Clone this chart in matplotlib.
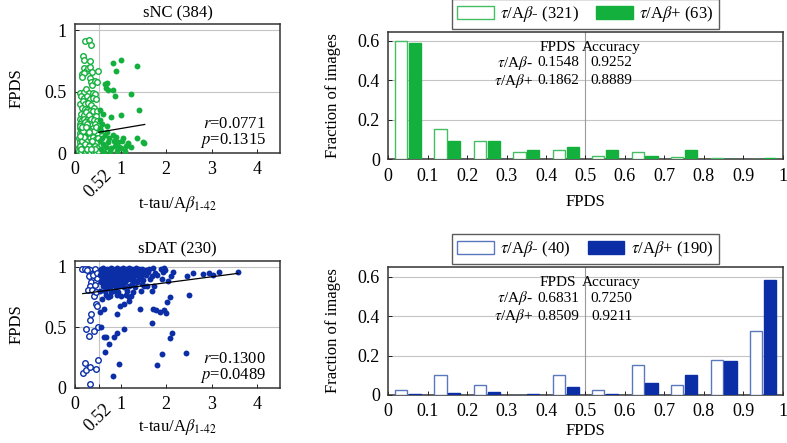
import matplotlib
matplotlib.use('Agg')
import matplotlib.pyplot as plt
import matplotlib.transforms as mtrans
from matplotlib.patches import Patch
import numpy as np

plt.rcParams['font.family'] = ['Liberation Serif', 'DejaVu Serif']
plt.rcParams['mathtext.fontset'] = 'stix'
plt.rcParams['font.size'] = 12

GREEN = '#14b03e'
GREEN_LIGHT = '#45bd62'
BLUE = '#0b2ea6'
BLUE_LIGHT = '#5a78bd'

# ---------------- scatter data (t-tau/Abeta ratio, FPDS) ----------------
nc_neg_points = [
    (0.22, 0.91), (0.30, 0.92), (0.35, 0.88), (0.17, 0.79), (0.19, 0.76), (0.33, 0.75),
    (0.19, 0.69), (0.25, 0.67), (0.28, 0.69), (0.33, 0.70), (0.37, 0.66), (0.51, 0.67),
    (0.15, 0.64), (0.19, 0.65), (0.16, 0.62), (0.32, 0.61), (0.35, 0.58), (0.37, 0.55),
    (0.44, 0.59), (0.48, 0.58), (0.12, 0.49), (0.19, 0.50), (0.25, 0.52), (0.30, 0.49),
    (0.39, 0.49), (0.44, 0.48), (0.14, 0.46), (0.20, 0.45), (0.26, 0.46), (0.33, 0.44),
    (0.40, 0.45), (0.46, 0.44), (0.12, 0.40), (0.17, 0.42), (0.23, 0.40), (0.29, 0.41),
    (0.36, 0.39), (0.42, 0.37), (0.15, 0.37), (0.21, 0.36), (0.27, 0.35), (0.33, 0.34),
    (0.39, 0.34), (0.48, 0.34), (0.13, 0.32), (0.19, 0.31), (0.24, 0.33), (0.30, 0.31),
    (0.45, 0.30),
    (0.10, 0.28), (0.15, 0.27), (0.20, 0.28), (0.26, 0.27), (0.31, 0.26), (0.36, 0.28),
    (0.42, 0.27), (0.48, 0.26), (0.12, 0.24), (0.17, 0.23), (0.22, 0.25), (0.28, 0.22),
    (0.33, 0.24), (0.38, 0.23), (0.44, 0.24), (0.50, 0.22), (0.10, 0.20), (0.14, 0.19),
    (0.19, 0.21), (0.24, 0.19), (0.29, 0.20), (0.35, 0.19), (0.40, 0.20), (0.46, 0.18),
    (0.11, 0.16), (0.16, 0.17), (0.21, 0.15), (0.26, 0.16), (0.31, 0.15), (0.37, 0.16),
    (0.43, 0.15), (0.49, 0.16), (0.09, 0.12), (0.13, 0.13), (0.18, 0.12), (0.23, 0.13),
    (0.28, 0.11), (0.33, 0.12), (0.39, 0.13), (0.45, 0.11), (0.51, 0.12), (0.10, 0.09),
    (0.15, 0.08), (0.20, 0.09), (0.25, 0.08), (0.30, 0.09), (0.35, 0.07), (0.41, 0.09),
    (0.47, 0.08), (0.08, 0.05), (0.12, 0.06), (0.17, 0.04), (0.22, 0.05), (0.27, 0.06),
    (0.32, 0.04), (0.37, 0.05), (0.43, 0.06), (0.49, 0.04), (0.09, 0.02), (0.14, 0.01),
    (0.19, 0.02), (0.24, 0.01), (0.29, 0.02), (0.34, 0.01), (0.40, 0.02), (0.46, 0.01),
    (0.51, 0.02), (0.12, 0.22), (0.27, 0.24), (0.18, 0.18), (0.33, 0.18), (0.24, 0.10),
    (0.38, 0.10), (0.16, 0.10), (0.21, 0.07), (0.31, 0.06), (0.44, 0.03), (0.13, 0.03),
    (0.26, 0.03), (0.36, 0.03), (0.20, 0.13), (0.42, 0.18), (0.15, 0.21), (0.47, 0.21),
    (0.30, 0.17), (0.11, 0.14), (0.25, 0.21),
]
nc_pos_points = [
    (0.83, 0.73), (1.01, 0.76), (0.91, 0.67), (1.37, 0.71), (0.68, 0.53), (0.71, 0.57),
    (0.73, 0.51), (0.84, 0.51), (0.88, 0.46), (1.24, 0.48), (1.41, 0.35), (1.00, 0.31),
    (0.78, 0.29), (0.62, 0.32), (0.55, 0.35), (0.66, 0.56), (0.55, 0.27), (0.60, 0.24),
    (0.70, 0.22), (0.58, 0.18), (0.65, 0.15), (0.75, 0.12), (0.85, 0.10), (0.95, 0.09),
    (1.06, 0.12), (1.17, 0.08), (1.22, 0.05), (1.35, 0.12), (1.49, 0.09), (1.51, 0.08),
    (0.55, 0.10), (0.62, 0.07), (0.68, 0.05), (0.72, 0.09), (0.80, 0.04), (0.88, 0.06),
    (0.92, 0.02), (1.00, 0.04), (1.10, 0.02), (0.57, 0.03), (0.64, 0.01), (0.77, 0.02),
    (0.60, 0.12), (0.83, 0.15), (0.54, 0.20), (0.70, 0.17), (1.03, 0.10), (1.13, 0.06),
    (0.90, 0.13), (0.97, 0.05),
]
dat_neg_points = [
    (0.15, 0.98), (0.28, 0.98), (0.34, 0.97), (0.41, 0.96), (0.37, 0.94), (0.30, 0.92),
    (0.35, 0.87), (0.32, 0.84), (0.28, 0.81), (0.37, 0.81), (0.45, 0.88), (0.48, 0.91),
    (0.41, 0.76), (0.47, 0.79), (0.45, 0.69), (0.48, 0.68), (0.35, 0.61), (0.32, 0.56),
    (0.25, 0.49), (0.30, 0.43), (0.41, 0.47), (0.50, 0.50), (0.23, 0.21), (0.17, 0.12),
    (0.25, 0.15), (0.34, 0.17), (0.47, 0.16), (0.50, 0.23), (0.32, 0.035), (0.21, 0.98),
    (0.44, 0.98), (0.39, 0.93), (0.43, 0.85), (0.26, 0.97), (0.49, 0.95),
]
dat_pos_points = [
    # dense upper cluster
    (0.56, 0.98), (0.62, 0.99), (0.70, 0.98), (0.78, 0.99), (0.84, 0.98), (0.92, 0.99),
    (0.98, 0.98), (1.05, 0.99), (1.12, 0.98), (1.18, 0.99), (1.25, 0.98), (1.33, 0.99),
    (1.40, 0.98), (1.48, 0.98), (1.56, 0.97), (1.62, 0.98), (1.72, 0.99), (1.88, 0.98),
    (1.95, 0.99), (0.58, 0.96), (0.66, 0.95), (0.74, 0.96), (0.82, 0.96), (0.88, 0.95),
    (0.95, 0.96), (1.02, 0.95), (1.09, 0.96), (1.15, 0.96), (1.22, 0.95), (1.30, 0.96),
    (1.38, 0.95), (1.45, 0.96), (1.52, 0.95), (1.60, 0.96), (1.75, 0.95), (1.93, 0.96),
    (0.55, 0.93), (0.63, 0.92), (0.71, 0.93), (0.80, 0.93), (0.87, 0.92), (0.93, 0.93),
    (1.00, 0.92), (1.08, 0.93), (1.14, 0.92), (1.21, 0.93), (1.28, 0.92), (1.36, 0.93),
    (1.44, 0.92), (1.55, 0.93), (1.68, 0.92), (1.80, 0.93), (0.60, 0.90), (0.68, 0.89),
    (0.76, 0.90), (0.85, 0.89), (0.91, 0.90), (0.98, 0.89), (1.06, 0.90), (1.13, 0.89),
    (1.20, 0.90), (1.30, 0.89), (1.40, 0.90), (1.50, 0.89), (1.65, 0.90), (0.58, 0.87),
    (0.66, 0.86), (0.75, 0.87), (0.83, 0.86), (0.92, 0.87), (1.03, 0.86), (1.10, 0.87),
    (1.25, 0.86), (1.35, 0.87), (1.46, 0.86), (0.62, 0.84), (0.72, 0.83), (0.80, 0.84),
    (0.90, 0.83), (0.97, 0.84), (1.08, 0.83), (1.18, 0.84), (1.32, 0.83), (1.52, 0.84),
    (0.65, 0.80), (0.78, 0.79), (0.88, 0.80), (0.95, 0.79), (1.15, 0.80), (1.28, 0.79),
    (1.45, 0.80), (0.68, 0.77), (0.76, 0.76), (0.93, 0.77), (1.01, 0.76), (1.12, 0.77),
    (1.22, 0.76),
    # scattered
    (0.55, 0.80), (0.69, 0.82), (0.59, 0.73), (0.72, 0.75), (0.55, 0.63), (0.63, 0.65),
    (0.57, 0.50), (0.63, 0.42), (0.69, 0.42), (0.74, 0.36), (0.85, 0.42), (0.92, 0.45),
    (0.66, 0.30), (0.83, 0.10), (0.97, 0.20), (1.07, 0.49), (0.92, 0.61), (0.99, 0.68),
    (1.07, 0.69), (1.18, 0.72), (1.18, 0.75), (1.42, 0.65), (1.69, 0.54), (1.71, 0.65),
    (1.78, 0.64), (1.87, 0.63), (1.96, 0.64), (2.00, 0.62), (2.01, 0.71), (2.09, 0.75),
    (2.51, 0.77), (2.09, 0.41), (2.12, 0.45), (1.91, 0.28), (1.81, 0.19), (2.43, 0.29),
    (1.69, 0.80), (1.74, 0.84), (1.58, 0.84), (1.91, 0.90), (2.05, 0.88), (2.16, 0.96),
    (2.45, 0.92), (2.82, 0.94), (2.95, 0.95), (3.04, 0.93), (3.15, 0.96), (3.58, 0.96),
    (2.60, 0.95), (1.97, 0.97), (2.10, 0.92),
]

# linear fits (slope, intercept) and the x range they cover
nc_fit = (0.063, 0.136)
nc_fit_range = (0.52, 1.53)
dat_fit = (0.049, 0.770)
dat_fit_range = (0.17, 3.58)
nc_stats = ('0.0771', '0.1315')
dat_stats = ('0.1300', '0.0489')

# ---------------- histogram data ----------------
bin_centers = [0.05, 0.15, 0.25, 0.35, 0.45, 0.55, 0.65, 0.75, 0.85, 0.95]
nc_neg_frac = [0.598, 0.153, 0.093, 0.037, 0.047, 0.017, 0.037, 0.013, 0.005, 0.0]
nc_pos_frac = [0.587, 0.095, 0.095, 0.048, 0.063, 0.048, 0.016, 0.048, 0.0, 0.008]
dat_neg_frac = [0.025, 0.100, 0.050, 0.0, 0.100, 0.025, 0.150, 0.050, 0.175, 0.325]
dat_pos_frac = [0.005, 0.010, 0.016, 0.005, 0.042, 0.005, 0.063, 0.100, 0.174, 0.584]

nc_table = [('0.1548', '0.9252'), ('0.1862', '0.8889')]
dat_table = [('0.6831', '0.7250'), ('0.8509', '0.9211')]

NEG = r'$\tau$/A$\beta$-'
POS = r'$\tau$/A$\beta$+'

TICK_FS = 13
TABLE_FS = 11
fig = plt.figure(figsize=(7.87, 4.43), dpi=100)


def scatter_panel(rect, neg, pos, color, fit, fit_range, stats, title, xlabpad):
    ax = fig.add_axes(rect)
    neg = np.array(neg)
    pos = np.array(pos)
    ax.scatter(neg[:, 0], neg[:, 1], s=16, facecolors='white', edgecolors=color,
               linewidths=1.0, zorder=3)
    ax.scatter(pos[:, 0], pos[:, 1], s=18, color=color, linewidths=0, zorder=3)
    fx = np.array(fit_range)
    ax.plot(fx, fit[0] * fx + fit[1], color='black', lw=0.9, zorder=4)
    ax.set_xlim(0, 4.5)
    ax.set_ylim(0, 1.05)
    ax.set_xticks([0, 0.52, 1, 2, 3, 4])
    ax.set_xticklabels(['0', '', '1', '2', '3', '4'])
    ax.set_yticks([0, 0.5, 1])
    ax.set_yticklabels(['0', '0.5', '1'])
    for y in (0.5, 1.0):
        ax.axhline(y, color='#c4c4c4', lw=0.8, zorder=1)
    ax.axvline(0.52, color='#c4c4c4', lw=0.8, zorder=1)
    trans = mtrans.blended_transform_factory(ax.transData, ax.transAxes)
    ax.text(0.52, -0.235, '0.52', rotation=45, ha='center', va='center',
            transform=trans, fontsize=TICK_FS)
    ax.tick_params(direction='in', length=3, width=0.6, pad=6, labelsize=TICK_FS)
    for sp in ax.spines.values():
        sp.set_color('#333333')
        sp.set_linewidth(1.1)
    ax.set_xlabel(r't-tau/A$\beta_{1\text{-}42}$', fontsize=12, labelpad=xlabpad)
    ax.set_ylabel('FPDS', fontsize=12, labelpad=14)
    ax.set_title(title, fontsize=12, pad=5)
    ax.text(0.93, 0.225, r'$r$=' + stats[0], transform=ax.transAxes, ha='right',
            va='center', fontsize=12)
    ax.text(0.93, 0.10, r'$p$=' + stats[1], transform=ax.transAxes, ha='right',
            va='center', fontsize=12)
    return ax


def hist_panel(rect, neg, pos, edge_neg, color, table, nlab, plab, ymax, xlabpad):
    ax = fig.add_axes(rect)
    c = np.array(bin_centers)
    w = 0.031
    off = 0.0175
    ax.bar(c - off, neg, width=w, facecolor='white', edgecolor=edge_neg, lw=1.0, zorder=3)
    ax.bar(c + off, pos, width=w, facecolor=color, edgecolor=color, lw=1.0, zorder=3)
    ax.set_xlim(0, 1)
    ax.set_ylim(0, ymax)
    ax.set_xticks(np.arange(0, 1.01, 0.1))
    ax.set_xticklabels(['0', '0.1', '0.2', '0.3', '0.4', '0.5', '0.6', '0.7', '0.8', '0.9', '1'])
    ax.set_yticks([0, 0.2, 0.4, 0.6])
    ax.set_yticklabels(['0', '0.2', '0.4', '0.6'])
    for y in (0.2, 0.4, 0.6):
        ax.axhline(y, color='#c4c4c4', lw=0.8, zorder=1)
    ax.axvline(0.5, color='#9a9a9a', lw=0.8, zorder=1)
    ax.tick_params(direction='in', length=3, width=0.6, pad=6, labelsize=TICK_FS)
    for sp in ax.spines.values():
        sp.set_color('#333333')
        sp.set_linewidth(1.1)
    ax.set_xlabel('FPDS', fontsize=12, labelpad=xlabpad)
    ax.set_ylabel('Fraction of images', fontsize=12, labelpad=12)
    tr = ax.transAxes
    ax.text(0.430, 0.88, 'FPDS', transform=tr, ha='center', va='center', fontsize=TABLE_FS)
    ax.text(0.564, 0.88, 'Accuracy', transform=tr, ha='center', va='center', fontsize=TABLE_FS)
    rows_y = [0.755, 0.615]
    for lab, (a, b), yy in zip([NEG, POS], table, rows_y):
        ax.text(0.366, yy, lab, transform=tr, ha='right', va='center', fontsize=TABLE_FS)
        ax.text(0.430, yy, a, transform=tr, ha='center', va='center', fontsize=TABLE_FS)
        ax.text(0.566, yy, b, transform=tr, ha='center', va='center', fontsize=TABLE_FS)
    handles = [Patch(facecolor='white', edgecolor=edge_neg, lw=1.0),
               Patch(facecolor=color, edgecolor=color, lw=1.0)]
    leg = ax.legend(handles, [nlab, plab], loc='lower center', bbox_to_anchor=(0.5, 1.0),
                    ncol=2, frameon=True, fancybox=False, fontsize=12,
                    handlelength=2.2, handleheight=0.9, handletextpad=0.4,
                    columnspacing=1.0, borderpad=0.3, borderaxespad=0.15)
    leg.get_frame().set_edgecolor('#333333')
    leg.get_frame().set_linewidth(1.0)
    return ax


scatter_panel([0.0953, 0.6546, 0.2605, 0.2912], nc_neg_points, nc_pos_points, GREEN,
              nc_fit, nc_fit_range, nc_stats, 'sNC (384)', 11)
scatter_panel([0.0953, 0.1242, 0.2605, 0.2874], dat_neg_points, dat_pos_points, BLUE,
              dat_fit, dat_fit_range, dat_stats, 'sDAT (230)', 3)
hist_panel([0.4934, 0.6404, 0.5011, 0.288], nc_neg_frac, nc_pos_frac, GREEN_LIGHT, GREEN,
           nc_table, NEG + ' (321)', POS + ' (63)', 0.6455, 7)
hist_panel([0.4934, 0.1084, 0.5011, 0.2896], dat_neg_frac, dat_pos_frac, BLUE_LIGHT, BLUE,
           dat_table, NEG + ' (40)', POS + ' (190)', 0.65, 2)

fig.savefig('out.png', dpi=100)
